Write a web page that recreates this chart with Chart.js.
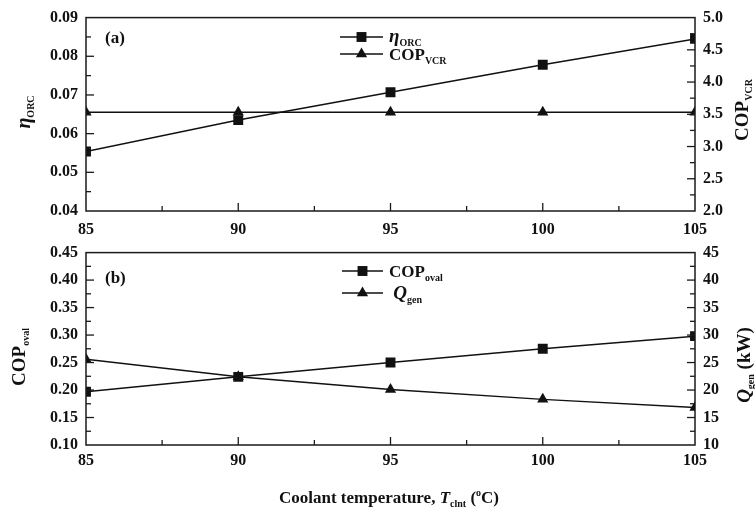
<!DOCTYPE html>
<html><head><meta charset="utf-8">
<script src="https://cdn.jsdelivr.net/npm/chart.js@4"></script>
<style>
html,body{margin:0;padding:0;background:#fff;}
#wrap{position:relative;width:755px;height:513px;overflow:hidden;font-family:"Liberation Serif","Times New Roman",serif;color:#111;}
canvas{position:absolute;left:0;}
.lbl{position:absolute;font-weight:bold;white-space:nowrap;line-height:1;}
.rot{transform:translate(-50%,-50%) rotate(-90deg);}
.ctr{transform:translate(-50%,-50%);}
.sub{font-size:10px;position:relative;top:4px;}
.sup{font-size:10px;position:relative;top:-7px;}
</style></head>
<body><div id="wrap">
<canvas id="c1" width="755" height="250" style="top:0"></canvas>
<canvas id="c2" width="755" height="278" style="top:235px"></canvas>
<div class="lbl rot" style="left:23px;top:112px;font-size:20px"><i>η</i><span class="sub">ORC</span></div>
<div class="lbl rot" style="left:741px;top:110px;font-size:19px">COP<span class="sub">VCR</span></div>
<div class="lbl rot" style="left:18px;top:357px;font-size:19px">COP<span class="sub">oval</span></div>
<div class="lbl rot" style="left:743px;top:365px;font-size:19px"><i>Q</i><span class="sub">gen</span> (kW)</div>
<div class="lbl" style="left:105px;top:29px;font-size:17px">(a)</div>
<div class="lbl" style="left:105px;top:269px;font-size:17px">(b)</div>
<div class="lbl ctr" style="left:389px;top:497px;font-size:17px">Coolant temperature, <i>T</i><span class="sub">clnt</span> (<span class="sup">o</span>C)</div>
</div>
<script>
// ---- data ----
const temps   = [85, 90, 95, 100, 105];
const etaORC  = [0.0554, 0.0635, 0.0707, 0.0778, 0.0845];
const copVCR  = [3.53, 3.53, 3.53, 3.53, 3.53];
const copOval = [0.197, 0.224, 0.250, 0.275, 0.298];
const qGen    = [25.6, 22.4, 20.1, 18.3, 16.8];
// axis ranges: [min, max, major step]
const xAxis    = [85, 105, 5];
const etaAxis  = [0.04, 0.09, 0.01];
const vcrAxis  = [2.0, 5.0, 0.5];
const ovalAxis = [0.10, 0.45, 0.05];
const qAxis    = [10, 45, 5];

const FONT = '"Liberation Serif","Times New Roman",serif';
const INK = '#111';
const pts = ys => temps.map((t, i) => ({x: t, y: ys[i]}));

function marker(ctx, style, x, y, r, color) {
  ctx.fillStyle = color;
  ctx.beginPath();
  if (style === 'rect') {
    const s = r * Math.SQRT1_2;
    ctx.rect(x - s, y - s, 2 * s, 2 * s);
  } else {
    ctx.moveTo(x, y - r);
    ctx.lineTo(x + 0.866 * r, y + 0.5 * r);
    ctx.lineTo(x - 0.866 * r, y + 0.5 * r);
    ctx.closePath();
  }
  ctx.fill();
}

const frameTicks = {
  id: 'frameTicks',
  afterDatasetsDraw(chart) {
    const {ctx, chartArea: a, scales} = chart;
    ctx.save();
    ctx.strokeStyle = '#1a1a1a';
    ctx.lineWidth = 1.5;
    ctx.strokeRect(a.left, a.top, a.right - a.left, a.bottom - a.top);
    ctx.lineWidth = 1.3;
    const line = (x1, y1, x2, y2) => { ctx.beginPath(); ctx.moveTo(x1, y1); ctx.lineTo(x2, y2); ctx.stroke(); };
    const each = (s, fn) => {
      const st = s.options.ticks.stepSize / 2;
      const n = Math.round((s.max - s.min) / st);
      for (let i = 1; i < n; i++) fn(s.getPixelForValue(s.min + i * st), i % 2 === 0);
    };
    each(scales.x, (p, maj) => line(p, a.bottom, p, a.bottom - (maj ? 8 : 5)));
    each(scales.y, (p, maj) => line(a.left, p, a.left + (maj ? 8 : 5), p));
    each(scales.y1, (p, maj) => line(a.right, p, a.right - (maj ? 8 : 5), p));
    ctx.restore();
  }
};

function makeLegend(cfg) {
  return {
    id: 'richLegend',
    afterDraw(chart) {
      const ctx = chart.ctx;
      ctx.save();
      cfg.items.forEach((it, i) => {
        const ds = chart.data.datasets[it.ds];
        const y = cfg.y + i * cfg.gap;
        ctx.strokeStyle = ds.borderColor;
        ctx.lineWidth = ds.borderWidth;
        ctx.beginPath(); ctx.moveTo(cfg.x, y); ctx.lineTo(cfg.x + cfg.len, y); ctx.stroke();
        marker(ctx, ds.pointStyle, cfg.x + cfg.len / 2, y, ds.pointRadius, ds.pointBackgroundColor);
        let tx = cfg.x + cfg.len + 6;
        ctx.fillStyle = INK;
        ctx.textBaseline = 'alphabetic';
        ctx.textAlign = 'left';
        it.parts.forEach(p => { ctx.font = p.f; ctx.fillText(p.t, tx, y + p.dy); tx += ctx.measureText(p.t).width; });
      });
      ctx.restore();
    }
  };
}

function ds(label, data, style, axis, r) {
  return {label, data, yAxisID: axis, borderColor: INK, borderWidth: 1.5,
    pointStyle: style, pointRadius: r, pointHoverRadius: r, pointBackgroundColor: INK,
    pointBorderWidth: 0, fill: false, tension: 0};
}

function tickFont() { return {family: FONT, size: 16, weight: 'bold'}; }

function makeChart(id, datasets, leftAx, rightAx, leftDec, rightDec, padTop, xH, xPad, legendCfg) {
  return new Chart(document.getElementById(id), {
    type: 'line',
    data: {datasets},
    options: {
      responsive: false, animation: false,
      events: [],
      layout: {padding: {top: padTop, left: 0, right: 0, bottom: 0}},
      plugins: {legend: {display: false}, tooltip: {enabled: false}},
      scales: {
        x: {type: 'linear', min: xAxis[0], max: xAxis[1],
          ticks: {stepSize: xAxis[2], font: tickFont(), color: INK, padding: xPad, maxRotation: 0},
          grid: {display: false, drawTicks: false}, border: {display: false},
          afterFit: s => { s.height = xH; }},
        y: {type: 'linear', position: 'left', min: leftAx[0], max: leftAx[1],
          ticks: {stepSize: leftAx[2], font: tickFont(), color: INK, padding: 8,
            callback: v => Number(v).toFixed(leftDec)},
          grid: {display: false, drawTicks: false}, border: {display: false},
          afterFit: s => { s.width = 86; }},
        y1: {type: 'linear', position: 'right', min: rightAx[0], max: rightAx[1],
          ticks: {stepSize: rightAx[2], font: tickFont(), color: INK, padding: 8,
            callback: v => Number(v).toFixed(rightDec)},
          grid: {display: false, drawTicks: false}, border: {display: false},
          afterFit: s => { s.width = 60; }}
      }
    },
    plugins: [frameTicks, makeLegend(legendCfg)]
  });
}

const B = 'bold 17px ' + FONT, BI = 'italic bold 19px ' + FONT, S = 'bold 10px ' + FONT;

makeChart('c1',
  [ds('ηORC', pts(etaORC), 'rect', 'y', 7), ds('COPVCR', pts(copVCR), 'triangle', 'y1', 6.5)],
  etaAxis, vcrAxis, 2, 1, 16, 39, 9,
  {x: 340, y: 37, gap: 17, len: 43, items: [
    {ds: 0, parts: [{t: 'η', f: BI, dy: 5}, {t: 'ORC', f: S, dy: 9}]},
    {ds: 1, parts: [{t: 'COP', f: B, dy: 6}, {t: 'VCR', f: S, dy: 10}]}
  ]});

makeChart('c2',
  [ds('COPoval', pts(copOval), 'rect', 'y', 7), ds('Qgen', pts(qGen), 'triangle', 'y1', 6.5)],
  ovalAxis, qAxis, 2, 0, 17, 68, 6,
  {x: 342, y: 36, gap: 22, len: 41, items: [
    {ds: 0, parts: [{t: 'COP', f: B, dy: 6}, {t: 'oval', f: S, dy: 10}]},
    {ds: 1, parts: [{t: ' ', f: B, dy: 6}, {t: 'Q', f: BI, dy: 6}, {t: 'gen', f: S, dy: 10}]}
  ]});
</script>
</body></html>
